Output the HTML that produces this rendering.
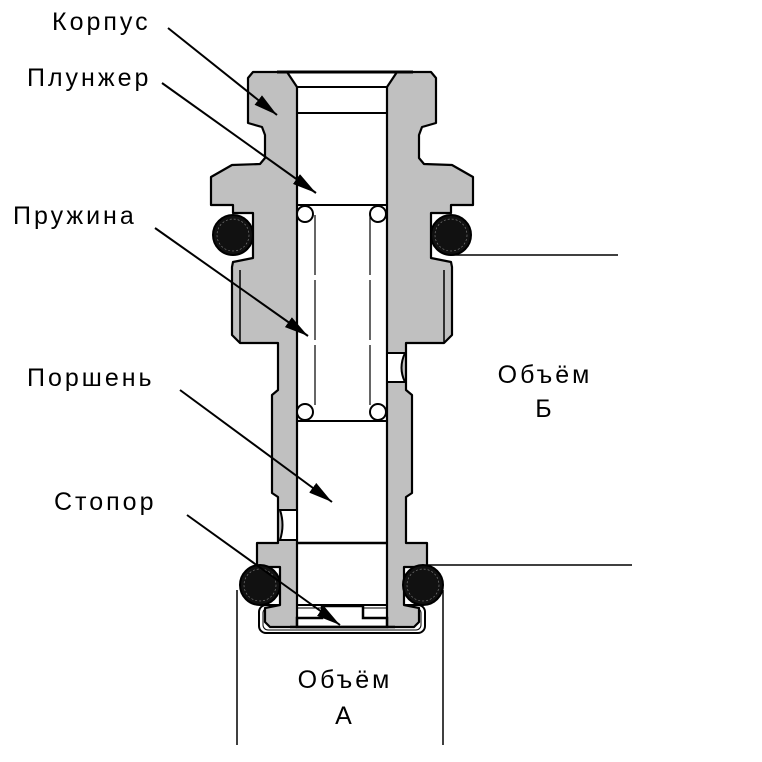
<!DOCTYPE html>
<html><head><meta charset="utf-8"><style>
html,body{margin:0;padding:0;background:#fff}
svg{display:block}
text{font-family:"Liberation Sans",sans-serif;font-size:25px;letter-spacing:3px;fill:#000}
</style></head><body>
<svg width="762" height="762" viewBox="0 0 762 762" xmlns="http://www.w3.org/2000/svg">
<defs>
<marker id="ar" viewBox="0 0 24 12" refX="24" refY="6" markerWidth="24" markerHeight="12" orient="auto" markerUnits="userSpaceOnUse"><path d="M0,0 L24,6 L0,12 z" fill="#000"/></marker>
<g id="half">
<polygon fill="#c0c0c0" stroke="#000" stroke-width="2.2" stroke-linejoin="round" points="253,72 248,78 248,123 262,127 265,135 265,158 260,164 232,165 211,177 211,205 233,205 233,213 253,213 253,258 233,262 232,267 232,335 240,343 278,343 278,390 272,395 272,493 278,497 278,543 257,543 257,567 280,567 280,605 265,608 265,622 270,627 297,627 297,87 287,72"/>
<path d="M240,270 L240,343" stroke="#000" stroke-width="1.5"/>
</g>
</defs>
<rect x="259" y="605" width="166" height="28" rx="7" fill="#fff" stroke="#000" stroke-width="2"/>
<rect x="263" y="608" width="158" height="22" rx="5" fill="none" stroke="#000" stroke-width="1"/>
<use href="#half"/>
<use href="#half" transform="translate(684,0) scale(-1,1)"/>
<line x1="277" y1="72" x2="413" y2="72" stroke="#000" stroke-width="3"/>
<line x1="297" y1="87" x2="387" y2="87" stroke="#000" stroke-width="2"/>
<line x1="297" y1="113" x2="387" y2="113" stroke="#000" stroke-width="2"/>
<line x1="297" y1="205" x2="387" y2="205" stroke="#000" stroke-width="2"/>
<line x1="297" y1="421" x2="387" y2="421" stroke="#000" stroke-width="2"/>
<line x1="297" y1="543" x2="387" y2="543" stroke="#000" stroke-width="2.5"/>
<g stroke="#000" stroke-width="1.2" fill="#fff">
<line x1="315" y1="215" x2="315" y2="410" stroke-dasharray="60,5"/>
<line x1="370" y1="215" x2="370" y2="410" stroke-dasharray="60,5"/>
<circle cx="305" cy="214" r="8" stroke-width="2"/>
<circle cx="378" cy="214" r="8" stroke-width="2"/>
<circle cx="305" cy="412" r="8" stroke-width="2"/>
<circle cx="378" cy="412" r="8" stroke-width="2"/>
</g>
<path d="M297,627 L297,618 L322,618 L322,606 L363,606 L363,618 L387,618 L387,627 Z" fill="#fff" stroke="#000" stroke-width="2.5"/>
<line x1="290" y1="627" x2="395" y2="627" stroke="#000" stroke-width="2.5"/>
<path d="M280,510 Q285,525 280,540 L297,540 L297,510 Z" fill="#fff" stroke="#000" stroke-width="2"/>
<path d="M405,353 Q398,368 405,382 L387,382 L387,353 Z" fill="#fff" stroke="#000" stroke-width="2"/>
<g fill="#111" stroke="#000" stroke-width="2">
<circle cx="233" cy="235" r="20"/><circle cx="451" cy="235" r="20"/>
<circle cx="260" cy="585" r="20"/><circle cx="423" cy="585" r="20"/>
</g>
<g fill="none" stroke="#888" stroke-width="0.6" stroke-dasharray="2,2">
<circle cx="233" cy="235" r="16"/><circle cx="451" cy="235" r="16"/>
<circle cx="260" cy="585" r="16"/><circle cx="423" cy="585" r="16"/>
</g>
<g stroke="#000" stroke-width="1.5">
<line x1="452" y1="255" x2="618" y2="255"/>
<line x1="428" y1="565" x2="632" y2="565"/>
<line x1="237" y1="590" x2="237" y2="745"/>
<line x1="443" y1="590" x2="443" y2="745"/>
</g>
<g stroke="#000" stroke-width="2" marker-end="url(#ar)">
<line x1="168" y1="28" x2="277" y2="115"/>
<line x1="162" y1="83" x2="316" y2="193"/>
<line x1="155" y1="228" x2="308" y2="336"/>
<line x1="180" y1="390" x2="332" y2="502"/>
<line x1="187" y1="515" x2="340" y2="625"/>
</g>
<text x="52" y="30">Корпус</text>
<text x="27" y="86">Плунжер</text>
<text x="13" y="224">Пружина</text>
<text x="27" y="386">Поршень</text>
<text x="54" y="510">Стопор</text>
<text x="545" y="383" text-anchor="middle">Объём</text>
<text x="545" y="417" text-anchor="middle">Б</text>
<text x="345" y="688" text-anchor="middle">Объём</text>
<text x="345" y="724" text-anchor="middle">А</text>
</svg>
</body></html>
